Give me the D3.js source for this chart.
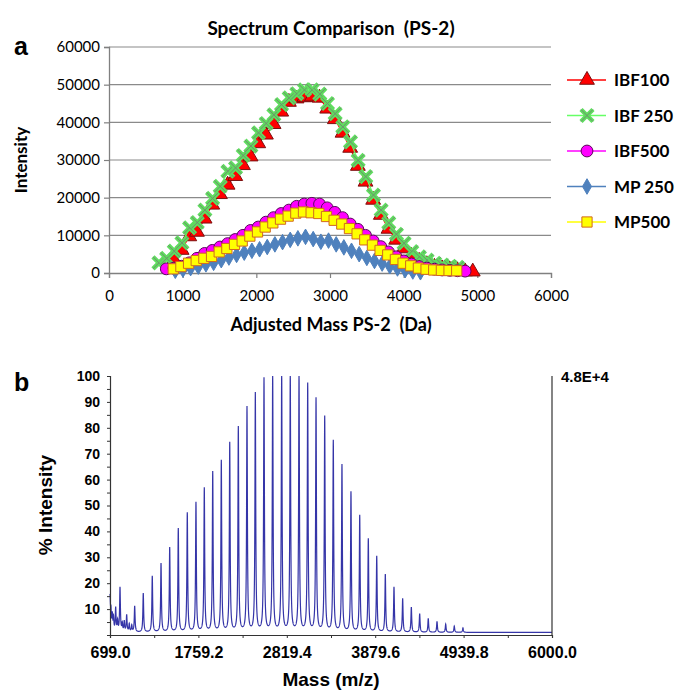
<!DOCTYPE html>
<html>
<head>
<meta charset="utf-8">
<script src="https://cdn.jsdelivr.net/npm/d3@7"></script>
<style>
  body { margin: 0; background: #fff; }
  svg { display: block; }
</style>
</head>
<body>
<script>
// ---- panel a : spectrum comparison (mass Da, intensity) ----
const ibf100 = [[882,3500],[986,6100],[1090,9700],[1194,10900],[1298,14400],[1402,18100],[1506,20900],[1610,23400],[1714,25700],[1818,28600],[1922,30900],[2026,34400],[2130,36700],[2234,39500],[2338,42800],[2442,45400],[2546,46300],[2650,46600],[2754,46800],[2858,46500],[2962,43600],[3066,40800],[3170,37200],[3274,33200],[3378,28400],[3482,24200],[3586,19400],[3690,15400],[3794,11700],[3898,8800],[4002,6500],[4106,4500],[4210,3200],[4314,2300],[4418,1600],[4522,1200],[4626,900],[4730,700],[4834,400],[4938,350]];
const ibf250 = [[678,2700],[782,3900],[886,5800],[990,8000],[1094,12000],[1198,13400],[1302,16700],[1406,19800],[1510,23000],[1614,27000],[1718,27900],[1822,31200],[1926,33700],[2030,37200],[2134,39700],[2238,42000],[2342,44700],[2446,46500],[2550,47600],[2654,48600],[2758,48600],[2862,47500],[2966,45000],[3070,42300],[3174,38800],[3278,34800],[3382,29900],[3486,25600],[3590,20700],[3694,16700],[3798,13300],[3902,10300],[4006,7900],[4110,5700],[4214,4300],[4318,3400],[4422,2600],[4526,2100],[4630,1800],[4734,1500]];
const ibf500 = [[778,1100],[882,1300],[986,1800],[1090,2700],[1194,3900],[1298,5200],[1402,6000],[1506,6900],[1610,7800],[1714,8900],[1818,10000],[1922,11300],[2026,12200],[2130,13500],[2234,14700],[2338,15800],[2442,16700],[2546,17700],[2650,18300],[2754,18500],[2858,18300],[2962,17300],[3066,16100],[3170,14700],[3274,13000],[3378,11600],[3482,10000],[3586,8500],[3690,7000],[3794,5600],[3898,4300],[4002,3200],[4106,2400],[4210,1700],[4314,1300],[4418,1000],[4522,800],[4626,700],[4730,600],[4834,500]];
const mp250 = [[900,600],[1004,900],[1108,1300],[1212,1700],[1316,2300],[1420,2700],[1524,3400],[1628,4100],[1732,4800],[1836,5400],[1940,5900],[2044,6300],[2148,6900],[2252,7600],[2356,8200],[2460,8800],[2564,9200],[2668,9600],[2772,9000],[2876,8300],[2980,8600],[3084,7600],[3188,6800],[3292,5900],[3396,5000],[3500,4000],[3604,3200],[3708,2500],[3812,1800],[3916,1200],[4020,750],[4124,400],[4228,200]];
const mp500 = [[872,1100],[976,1700],[1080,2600],[1184,3300],[1288,3900],[1392,4400],[1496,5600],[1600,6500],[1704,7600],[1808,8500],[1912,9800],[2016,10900],[2120,12200],[2224,13300],[2328,14300],[2432,15100],[2536,15900],[2640,16200],[2744,16000],[2848,15800],[2952,15000],[3056,14000],[3160,13000],[3264,11800],[3368,10400],[3472,8800],[3576,7400],[3680,6000],[3784,4800],[3888,3600],[3992,2600],[4096,1900],[4200,1300],[4304,1000],[4408,800],[4512,700],[4616,650],[4720,600]];
const seriesNames = ["IBF100", "IBF 250", "IBF500", "MP 250", "MP500"];
const aTicksX = [0, 1000, 2000, 3000, 4000, 5000, 6000];
const aTicksY = [0, 10000, 20000, 30000, 40000, 50000, 60000];

// ---- panel b : MALDI spectrum peaks (m/z, % intensity) ----
const peakMass = [699,710,726,741,767,790,819,846,870,899,930,960,995,1098,1206,1311,1415,1518,1626,1730,1830,1931,2034,2135,2238,2342,2442,2546,2650,2758,2861,2966,3070,3170,3274,3377,3481,3589,3694,3797,3898,4001,4105,4209,4313,4413,4516,4621,4725,4828,4932];
const peakPct  = [13,7,6,5,9,4,17,3,4,6.5,3,2.5,10,15,21.7,26.5,32.7,40,46,50,55.5,61.8,66,73,79,86.7,92,97.7,99.2,100,100,99.3,95.7,90,83,73.7,64.5,54,45,36,29.3,22.3,17.4,13,9.7,7.2,5.3,4.2,3.2,2.4,1.7];
const bTicksX = [699.0, 1759.2, 2819.4, 3879.6, 4939.8, 6000.0];
const bTicksY = [10, 20, 30, 40, 50, 60, 70, 80, 90, 100];

const svg = d3.select("body").append("svg").attr("width", 681).attr("height", 690);

// ================= panel a =================
const xa = d3.scaleLinear().domain([0, 6000]).range([109, 551]);
const ya = d3.scaleLinear().domain([0, 60000]).range([273, 47]);
const calibri = "Lato, 'Open Sans', sans-serif";

const ga = svg.append("g");
// gridlines
ga.selectAll("line.grid").data(aTicksY.slice(1)).join("line")
  .attr("x1", xa(0)).attr("x2", xa(6000))
  .attr("y1", d => ya(d)).attr("y2", d => ya(d))
  .attr("stroke", "#8a8a8a").attr("stroke-width", 1.2);

const axY = ga.append("g").attr("transform", `translate(${xa(0)},0)`)
  .call(d3.axisLeft(ya).tickValues(aTicksY).tickSize(5).tickFormat(d3.format("d")));
const axX = ga.append("g").attr("transform", `translate(0,${ya(0)})`)
  .call(d3.axisBottom(xa).tickValues(aTicksX).tickSize(5).tickFormat(d3.format("d")));
[axY, axX].forEach(a => {
  a.select(".domain").attr("stroke", "#808080").attr("stroke-width", 1.3);
  a.selectAll(".tick line").attr("stroke", "#808080").attr("stroke-width", 1.2);
  a.selectAll("text").attr("font-family", calibri).attr("font-size", 15).attr("fill", "#000");
});
axY.selectAll("text").attr("x", -9);
axX.selectAll("text").attr("y", 17);

ga.append("text").attr("x", 331).attr("y", 35).attr("text-anchor", "middle")
  .attr("font-family", calibri).attr("font-weight", "bold").attr("font-size", 19)
  .attr("xml:space", "preserve").text("Spectrum Comparison  (PS-2)");
ga.append("text").attr("x", 331).attr("y", 331).attr("text-anchor", "middle")
  .attr("font-family", calibri).attr("font-weight", "bold").attr("font-size", 18)
  .attr("xml:space", "preserve").text("Adjusted Mass PS-2  (Da)");
ga.append("text").attr("transform", "translate(27,160) rotate(-90)").attr("text-anchor", "middle")
  .attr("font-family", calibri).attr("font-weight", "bold").attr("font-size", 17)
  .text("Intensity");

const styles = [
  { data: ibf100, line: "#ff0000", fill: "#ff0000", stroke: "#7a1010", sym: d3.symbolTriangle, size: 95 },
  { data: ibf250, line: "#66ff66", fill: "#6ee86e", stroke: "#7aa07a", sym: d3.symbolX, size: 95 },
  { data: ibf500, line: "#ff00ff", fill: "#ff00ff", stroke: "#5a0a5a", sym: d3.symbolCircle, size: 110 },
  { data: mp250, line: "#4f81bd", fill: "#4f81bd", stroke: "#4f81bd", sym: d3.symbolDiamond, size: 70 },
  { data: mp500, line: "#ffff00", fill: "#ffff00", stroke: "#d2691e", sym: d3.symbolSquare, size: 105 }
];

function marker(sel, s) {
  if (s.sym === d3.symbolX) {
    sel.append("path").attr("d", d3.symbol(d3.symbolX, s.size)())
      .attr("stroke", "#5fdc5f").attr("stroke-width", 4.5).attr("fill", "none");
    sel.append("path").attr("d", d3.symbol(d3.symbolX, s.size)())
      .attr("stroke", "#6e8f6e").attr("stroke-width", 1).attr("fill", "none");
  } else {
    sel.append("path").attr("d", d3.symbol(s.sym, s.size)())
      .attr("fill", s.fill).attr("stroke", s.stroke).attr("stroke-width", 1);
  }
}

const line = d3.line().x(d => xa(d[0])).y(d => ya(d[1]));
styles.forEach(s => {
  ga.append("path").datum(s.data).attr("d", line)
    .attr("fill", "none").attr("stroke", s.line).attr("stroke-width", 1.2);
  ga.append("g").selectAll("g").data(s.data).join("g")
    .attr("transform", d => `translate(${xa(d[0])},${ya(d[1])})`)
    .each(function () { marker(d3.select(this), s); });
});

// legend
const leg = ga.append("g");
styles.forEach((s, i) => {
  const y = 80 + i * 35.5;
  leg.append("line").attr("x1", 567).attr("x2", 606).attr("y1", y).attr("y2", y)
    .attr("stroke", s.line).attr("stroke-width", 1.5);
  marker(leg.append("g").attr("transform", `translate(587,${y})`), s);
  leg.append("text").attr("x", 614).attr("y", y + 6)
    .attr("font-family", calibri).attr("font-weight", "bold").attr("font-size", 17)
    .attr("xml:space", "preserve").text(seriesNames[i]);
});

svg.append("text").attr("x", 14).attr("y", 55).attr("font-family", "'Liberation Sans', Arial, sans-serif")
  .attr("font-weight", "bold").attr("font-size", 25).text("a");

// ================= panel b =================
const xb = d3.scaleLinear().domain([699, 6000]).range([110, 552]);
const yb = d3.scaleLinear().domain([0, 100]).range([635, 376]);
const arial = "'Liberation Sans', Arial, sans-serif";
const gb = svg.append("g");

// spectrum trace drawn from the peak table (Lorentzian peak shape)
const gamma = 5.5;
const grid = d3.range(699, 6000.5, 1);
const trace = grid.map(m => {
  let v = 1.0;
  for (let i = 0; i < peakMass.length; i++) {
    const u = (m - peakMass[i]) / gamma;
    v += peakPct[i] / (1 + u * u);
  }
  return [m, Math.min(v, 100)];
});
gb.append("path").datum(trace)
  .attr("d", d3.line().x(d => xb(d[0])).y(d => yb(d[1])))
  .attr("fill", "none").attr("stroke", "#3535a8").attr("stroke-width", 1.2);

const axBL = gb.append("g").attr("transform", `translate(${xb(699)},0)`)
  .call(d3.axisLeft(yb).tickValues(d3.range(0, 101, 5)).tickSize(3).tickFormat(""));
const axBLl = gb.append("g").attr("transform", `translate(${xb(699)},0)`)
  .call(d3.axisLeft(yb).tickValues(bTicksY).tickSize(0).tickPadding(10).tickFormat(d3.format("d")));
axBLl.select(".domain").remove();
const axBB = gb.append("g").attr("transform", `translate(0,${yb(0)})`)
  .call(d3.axisBottom(xb).tickValues(d3.range(0, 11).map(i => 699 + i * 530.1)).tickSize(3).tickFormat(""));
const axBBl = gb.append("g").attr("transform", `translate(0,${yb(0)})`)
  .call(d3.axisBottom(xb).tickValues(bTicksX).tickSize(0).tickPadding(12).tickFormat(d3.format(".1f")));
axBBl.select(".domain").remove();
[axBL, axBB].forEach(a => {
  a.select(".domain").attr("stroke", "#333").attr("stroke-width", 1.2);
  a.selectAll(".tick line").attr("stroke", "#333");
});
axBLl.selectAll("text").attr("font-family", arial).attr("font-weight", "bold").attr("font-size", 14).attr("fill", "#000");
axBBl.selectAll("text").attr("font-family", arial).attr("font-weight", "bold").attr("font-size", 16).attr("fill", "#000");

gb.append("line").attr("x1", xb(6000)).attr("x2", xb(6000)).attr("y1", yb(100)).attr("y2", yb(0))
  .attr("stroke", "#333").attr("stroke-width", 1.2);
gb.append("text").attr("x", 561).attr("y", 382).attr("font-family", arial).attr("font-weight", "bold")
  .attr("font-size", 15).text("4.8E+4");
gb.append("text").attr("transform", "translate(52,505) rotate(-90)").attr("text-anchor", "middle")
  .attr("font-family", arial).attr("font-weight", "bold").attr("font-size", 19).text("% Intensity");
gb.append("text").attr("x", 331).attr("y", 686).attr("text-anchor", "middle")
  .attr("font-family", arial).attr("font-weight", "bold").attr("font-size", 19).text("Mass (m/z)");
svg.append("text").attr("x", 14).attr("y", 391).attr("font-family", arial)
  .attr("font-weight", "bold").attr("font-size", 25).text("b");
</script>
</body>
</html>
